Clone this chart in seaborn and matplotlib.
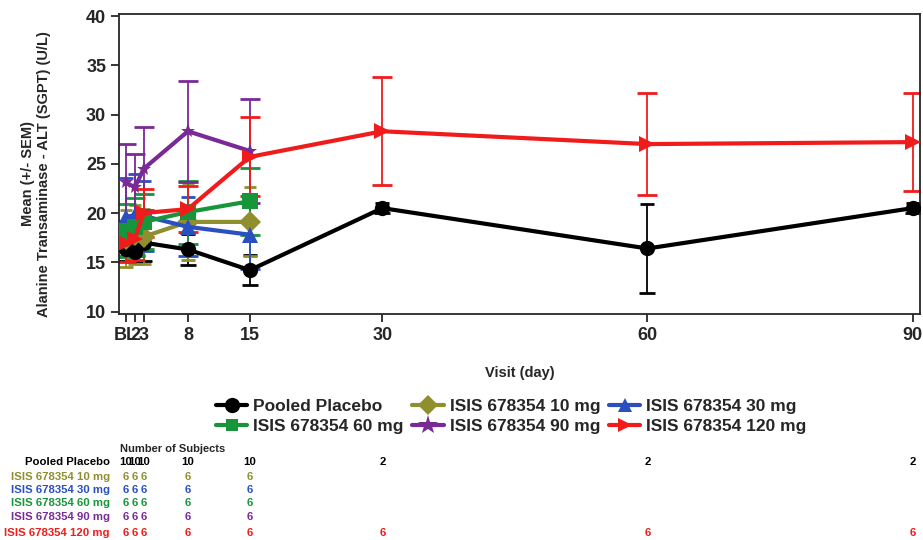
import numpy as np
import pandas as pd
import matplotlib
matplotlib.use("Agg")
import matplotlib.pyplot as plt
import seaborn as sns
from matplotlib.lines import Line2D

sns.set_style("ticks")
plt.rcParams['font.family'] = ['Liberation Sans', 'DejaVu Sans']
plt.rcParams['font.weight'] = 'bold'

# ---- data ----
visit_days = [1, 2, 3, 8, 15, 30, 60, 90]
visit_labels = ["BL", "2", "3", "8", "15", "30", "60", "90"]

groups = ["Pooled Placebo", "ISIS 678354 10 mg", "ISIS 678354 30 mg",
          "ISIS 678354 60 mg", "ISIS 678354 90 mg", "ISIS 678354 120 mg"]
colors = ["#000000", "#8f8f2e", "#2a50bf", "#17953a", "#7a2a96", "#f01c1c"]
markers = ["o", "D", "^", "s", "*", ">"]

placebo_mean = [16.3, 16.0, 17.0, 16.3, 14.2, 20.5, 16.4, 20.5]
placebo_sem = [1.2, 1.0, 1.9, 1.6, 1.5, 0.5, 4.5, 0.5]
mg10_mean = [17.4, 17.8, 17.6, 19.1, 19.1]
mg10_sem = [2.9, 3.0, 2.8, 3.9, 3.5]
mg30_mean = [19.6, 19.8, 19.7, 18.6, 17.8]
mg30_sem = [4.0, 4.2, 3.6, 3.0, 3.5]
mg60_mean = [18.2, 18.6, 19.1, 20.1, 21.2]
mg60_sem = [2.7, 2.9, 2.8, 3.2, 3.4]
mg90_mean = [23.1, 22.6, 24.5, 28.3, 26.3]
mg90_sem = [3.9, 3.4, 4.2, 5.1, 5.3]
mg120_mean = [17.0, 17.4, 20.0, 20.4, 25.7, 28.3, 27.0, 27.2]
mg120_sem = [2.0, 2.2, 2.4, 2.3, 4.0, 5.5, 5.2, 5.0]

placebo_n = ["10", "10", "10", "10", "10", "2", "2", "2"]
mg10_n = ["6", "6", "6", "6", "6"]
mg30_n = ["6", "6", "6", "6", "6"]
mg60_n = ["6", "6", "6", "6", "6"]
mg90_n = ["6", "6", "6", "6", "6"]
mg120_n = ["6", "6", "6", "6", "6", "6", "6", "6"]

means = [placebo_mean, mg10_mean, mg30_mean, mg60_mean, mg90_mean, mg120_mean]
sems = [placebo_sem, mg10_sem, mg30_sem, mg60_sem, mg90_sem, mg120_sem]
counts = [placebo_n, mg10_n, mg30_n, mg60_n, mg90_n, mg120_n]

rows = []
for g, m, s in zip(groups, means, sems):
    for d, mv, sv in zip(visit_days, m, s):
        rows.append({"group": g, "day": d, "mean": mv, "sem": sv})
df = pd.DataFrame(rows)

# ---- figure ----
fig = plt.figure(figsize=(9.23, 5.40), dpi=100)
ax = fig.add_axes([0.1293, 0.4185, 0.8674, 0.5555])

palette = dict(zip(groups, colors))
mk = dict(zip(groups, markers))
sizes = {"o": 11, "D": 10, "^": 10, "s": 9, "*": 15, ">": 10}

for g in groups:
    sub = df[df.group == g]
    c = palette[g]
    ax.errorbar(sub["day"], sub["mean"], yerr=sub["sem"], fmt="none",
                ecolor=c, elinewidth=1.3, capsize=7.5, capthick=2.0, zorder=2)

sns.lineplot(data=df, x="day", y="mean", hue="group", style="group",
             hue_order=groups, style_order=groups, palette=palette,
             markers=mk, dashes=False, linewidth=3, markersize=11,
             markeredgewidth=0, ax=ax, legend=False, zorder=3,
             errorbar=None, sort=True)
for line, g in zip(ax.get_lines(), groups):
    line.set_markersize(sizes[mk[g]])

ax.set_xlim(0.24, 90.83)
ax.set_ylim(9.75, 40.2)
ax.set_xticks(visit_days)
ax.set_xticklabels(visit_labels)
ax.set_yticks([10, 15, 20, 25, 30, 35, 40])
ax.tick_params(axis="both", labelsize=13, length=6, width=1.3, direction="out")
for lab in ax.get_xticklabels() + ax.get_yticklabels():
    lab.set_fontweight("bold")
for sp in ax.spines.values():
    sp.set_visible(True)
    sp.set_linewidth(1.3)
ax.set_xlabel("")
ax.set_ylabel("")
fig.text(520 / 923, 1 - 373 / 540, "Visit (day)", fontsize=10.5,
         fontweight="bold", ha="center", va="center")
fig.text(36 / 923, 1 - 174 / 540,
         "Mean (+/- SEM)\nAlanine Transaminase - ALT (SGPT) (U/L)",
         rotation=90, fontsize=10.5, fontweight="bold", ha="center",
         va="center", multialignment="center", linespacing=1.15)

# legend (row-major order)
handles = [Line2D([0], [0], color=c, marker=m, lw=3, markersize=sizes[m],
                  markeredgewidth=0) for c, m in zip(colors, markers)]
order = [0, 3, 1, 4, 2, 5]
leg = fig.legend([handles[i] for i in order], [groups[i] for i in order],
                 ncol=3, loc="center",
                 bbox_to_anchor=(0.554, 0.229), frameon=False,
                 prop={"size": 12.5, "weight": "bold"},
                 handlelength=1.8, handletextpad=0.35, columnspacing=0.5,
                 labelspacing=0.3)

# number of subjects table
fig.text(120 / 923, 1 - 449 / 540, "Number of Subjects", fontsize=8,
         fontweight="bold", ha="left", va="center")
row_y = [461.7, 476.7, 490.0, 503.3, 516.7, 532.7]
for g, c, n, yp in zip(groups, colors, counts, row_y):
    yf = 1 - yp / 540
    fig.text(0.119, yf, g, color=c, fontsize=8.2, fontweight="bold",
             ha="right", va="center")
    for d, val in zip(visit_days, n):
        xd = ax.transData.transform((d, 0))[0] / fig.bbox.width
        fig.text(xd, yf, val, color=c, fontsize=8.2, fontweight="bold",
                 ha="center", va="center")

fig.savefig("out.png", dpi=100)
